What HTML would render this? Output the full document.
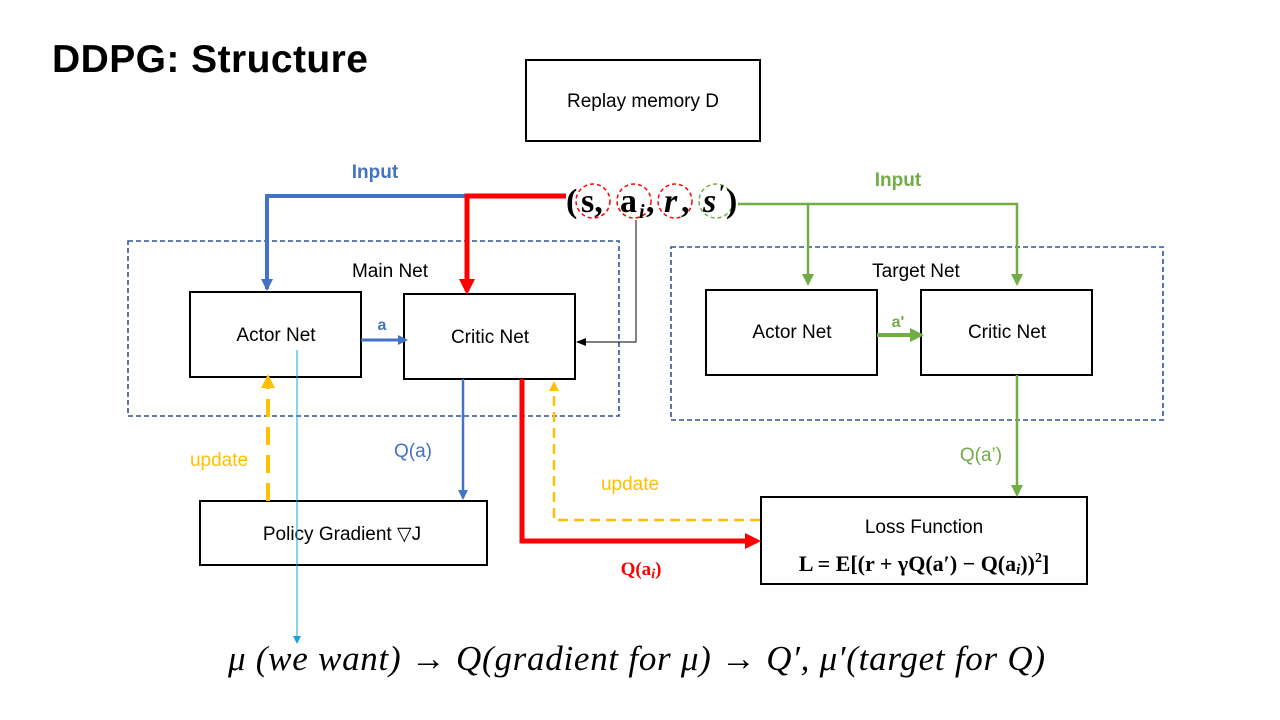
<!DOCTYPE html>
<html><head><meta charset="utf-8"><style>body{margin:0;background:#fff}svg{display:block}</style></head>
<body>
<svg width="1280" height="720" viewBox="0 0 1280 720" xmlns="http://www.w3.org/2000/svg" font-family="Liberation Sans, sans-serif">
<defs>
<marker id="ab" markerWidth="12" markerHeight="12" refX="10" refY="6" orient="auto" markerUnits="userSpaceOnUse"><path d="M0,0L12,6L0,12z" fill="#4472c4"/></marker>
<marker id="abs" markerWidth="10" markerHeight="10" refX="8" refY="5" orient="auto" markerUnits="userSpaceOnUse"><path d="M0,0L10,5L0,10z" fill="#4472c4"/></marker>
<marker id="ar" markerWidth="16" markerHeight="16" refX="12" refY="8" orient="auto" markerUnits="userSpaceOnUse"><path d="M0,0L16,8L0,16z" fill="#ff0000"/></marker>
<marker id="ag" markerWidth="12" markerHeight="12" refX="10" refY="6" orient="auto" markerUnits="userSpaceOnUse"><path d="M0,0L12,6L0,12z" fill="#70ad47"/></marker>
<marker id="ag2" markerWidth="14" markerHeight="14" refX="11" refY="7" orient="auto" markerUnits="userSpaceOnUse"><path d="M0,0L14,7L0,14z" fill="#70ad47"/></marker>
<marker id="ay" markerWidth="10" markerHeight="10" refX="8" refY="5" orient="auto" markerUnits="userSpaceOnUse"><path d="M0,0L10,5L0,10z" fill="#ffc000"/></marker>
<marker id="ay2" markerWidth="14" markerHeight="14" refX="10" refY="7" orient="auto" markerUnits="userSpaceOnUse"><path d="M0,0L14,7L0,14z" fill="#ffc000"/></marker>
<marker id="ak" markerWidth="10" markerHeight="10" refX="9" refY="5" orient="auto" markerUnits="userSpaceOnUse"><path d="M0,1L10,5L0,9z" fill="#000"/></marker>
<marker id="al" markerWidth="8" markerHeight="10" refX="7" refY="5" orient="auto" markerUnits="userSpaceOnUse"><path d="M0,1L8,5L0,9z" fill="#1ba1e2"/></marker>
</defs>
<text x="52" y="72" font-size="39" font-weight="bold" fill="#000" textLength="316">DDPG: Structure</text>
<rect x="526" y="60" width="234" height="81" fill="none" stroke="#000" stroke-width="2"/>
<text x="643" y="107" font-size="19" text-anchor="middle">Replay memory D</text>

<rect x="128" y="241" width="491" height="175" fill="none" stroke="#2f5597" stroke-width="1.6" stroke-dasharray="5,3"/>
<rect x="671" y="247" width="492" height="173" fill="none" stroke="#2f5597" stroke-width="1.6" stroke-dasharray="5,3"/>
<text x="390" y="277" font-size="19" text-anchor="middle">Main Net</text>
<text x="916" y="277" font-size="19" text-anchor="middle">Target Net</text>

<g fill="none" stroke="#000" stroke-width="2">
<rect x="190" y="292" width="171" height="85"/>
<rect x="404" y="294" width="171" height="85"/>
<rect x="706" y="290" width="171" height="85"/>
<rect x="921" y="290" width="171" height="85"/>
<rect x="200" y="501" width="287" height="64"/>
<rect x="761" y="497" width="326" height="87"/>
</g>
<g font-size="19" text-anchor="middle">
<text x="276" y="341">Actor Net</text>
<text x="490" y="343">Critic Net</text>
<text x="792" y="338">Actor Net</text>
<text x="1007" y="338">Critic Net</text>
<text x="342" y="540">Policy Gradient ▽J</text>
<text x="924" y="533">Loss Function</text>
<text x="924" y="571" font-family="Liberation Serif, serif" font-weight="bold" font-size="22">L = E[(r + γQ(a′) − Q(a<tspan font-style="italic" font-size="15" dy="3">i</tspan><tspan dy="-3">))</tspan><tspan font-size="14" dy="-9">2</tspan><tspan dy="9">]</tspan></text>
</g>

<path d="M565,196 H267 V289" fill="none" stroke="#4472c4" stroke-width="4" marker-end="url(#ab)"/>
<text x="375" y="178" font-size="19" font-weight="bold" fill="#4472c4" text-anchor="middle">Input</text>
<path d="M566,196 H467 V291" fill="none" stroke="#ff0000" stroke-width="5" marker-end="url(#ar)"/>
<path d="M738,204 H1017 V284" fill="none" stroke="#70ad47" stroke-width="2.5" marker-end="url(#ag)"/>
<path d="M808,204 V284" fill="none" stroke="#70ad47" stroke-width="2.5" marker-end="url(#ag)"/>
<text x="898" y="186" font-size="19" font-weight="bold" fill="#70ad47" text-anchor="middle">Input</text>
<path d="M636,220 V342 H577" fill="none" stroke="#333" stroke-width="1.2" marker-end="url(#ak)"/>

<g fill="none" stroke-width="1.5" stroke-dasharray="4,3">
<circle cx="593" cy="201" r="17" stroke="#ff0000"/>
<circle cx="634" cy="201" r="17" stroke="#ff0000"/>
<circle cx="675" cy="201" r="17" stroke="#ff0000"/>
<circle cx="716" cy="201" r="17" stroke="#70ad47"/>
</g>
<g font-family="Liberation Serif, serif" font-weight="bold" font-size="34" fill="#000">
<text x="566" y="212">(</text>
<text x="581" y="212">s,</text>
<text x="620" y="212">a</text><text x="639" y="218" font-size="20" font-style="italic">i</text>
<text x="646" y="212">,</text>
<text x="664" y="212" font-style="italic">r</text>
<text x="681" y="212">,</text>
<text x="703" y="212" font-style="italic">s</text><text x="719" y="200" font-size="22">′</text>
<text x="726" y="212">)</text>
</g>

<path d="M361,340 H406" stroke="#4472c4" stroke-width="3" marker-end="url(#abs)"/>
<text x="382" y="330" font-size="16" font-weight="bold" fill="#4472c4" text-anchor="middle">a</text>
<path d="M877,335 H921" stroke="#70ad47" stroke-width="4" marker-end="url(#ag2)"/>
<text x="898" y="327" font-size="16" font-weight="bold" fill="#70ad47" text-anchor="middle">a'</text>

<path d="M463,379 V498" stroke="#4472c4" stroke-width="2.5" marker-end="url(#abs)"/>
<text x="413" y="457" font-size="19" fill="#4472c4" text-anchor="middle">Q(a)</text>
<path d="M522,379 V541 H757" fill="none" stroke="#ff0000" stroke-width="5" marker-end="url(#ar)"/>
<text x="641" y="575" font-family="Liberation Serif, serif" font-weight="bold" font-size="19" fill="#ff0000" text-anchor="middle">Q(a<tspan font-style="italic" font-size="14" dy="3">i</tspan><tspan dy="-3">)</tspan></text>
<path d="M760,520 H554 V383" fill="none" stroke="#ffc000" stroke-width="2.5" stroke-dasharray="10,6" marker-end="url(#ay)"/>
<text x="630" y="490" font-size="19" fill="#ffc000" text-anchor="middle">update</text>
<path d="M268,501 V378" fill="none" stroke="#ffc000" stroke-width="4" stroke-dasharray="18,10" marker-end="url(#ay2)"/>
<text x="219" y="466" font-size="19" fill="#ffc000" text-anchor="middle">update</text>
<path d="M1017,375 V495" stroke="#70ad47" stroke-width="2.5" marker-end="url(#ag)"/>
<text x="981" y="461" font-size="19" fill="#70ad47" text-anchor="middle">Q(a’)</text>
<path d="M297,350 V643" stroke="#1ba1e2" stroke-width="1" marker-end="url(#al)"/>

<text x="228" y="670" font-family="Liberation Serif, serif" font-style="italic" font-size="35" textLength="817" lengthAdjust="spacing">μ (we want)  → Q(gradient for μ) → Q′, μ′(target for Q)</text>
</svg>
</body></html>
